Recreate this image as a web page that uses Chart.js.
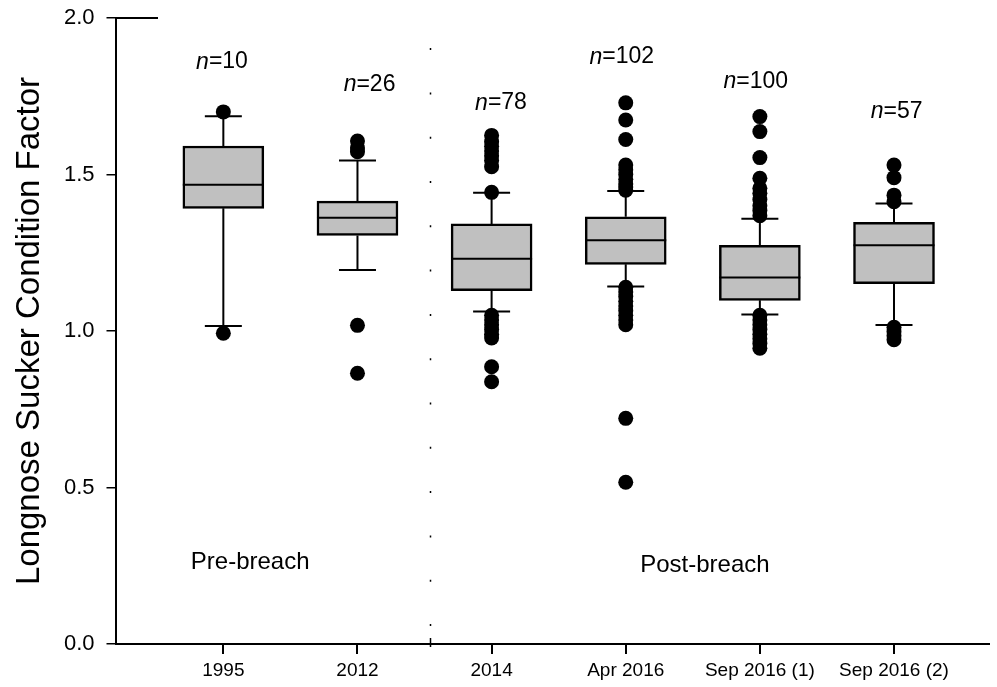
<!DOCTYPE html>
<html>
<head>
<meta charset="utf-8">
<title>Longnose Sucker Condition Factor</title>
<script src="https://cdn.jsdelivr.net/npm/chart.js@4"></script>
<style>
  html, body { margin: 0; padding: 0; background: #fff; }
  #wrap { width: 997px; height: 687px; }
</style>
</head>
<body>
<div id="wrap"><canvas id="conditionChart" width="997" height="687"></canvas></div>
<script>
// sampling events, left to right
const categories = ['1995', '2012', '2014', 'Apr 2016', 'Sep 2016 (1)', 'Sep 2016 (2)'];
const sampleSizes = [10, 26, 78, 102, 100, 57];

// box statistics per event
const whiskerLow = [1.016, 1.195, 1.062, 1.142, 1.053, 1.019];
const q1 = [1.392, 1.305, 1.129, 1.213, 1.098, 1.151];
const median = [1.467, 1.362, 1.231, 1.290, 1.171, 1.274];
const q3 = [1.591, 1.415, 1.342, 1.365, 1.274, 1.347];
const whiskerHigh = [1.686, 1.545, 1.442, 1.447, 1.359, 1.407];

// points beyond the whiskers
const outliers = [
  [1.700, 0.993],
  [1.607, 1.585, 1.573, 1.018, 0.865],
  [1.625, 1.605, 1.590, 1.575, 1.560, 1.545, 1.525, 1.443,
   1.050, 1.035, 1.020, 1.005, 0.990, 0.978, 0.886, 0.838],
  [1.729, 1.674, 1.612, 1.530, 1.515, 1.500, 1.485, 1.470, 1.460, 1.450,
   1.140, 1.125, 1.110, 1.095, 1.080, 1.065, 1.050, 1.035, 1.020, 0.721, 0.517],
  [1.685, 1.637, 1.554, 1.488, 1.456, 1.440, 1.420, 1.400, 1.385, 1.368,
   1.050, 1.035, 1.020, 1.005, 0.990, 0.975, 0.960, 0.945],
  [1.530, 1.490, 1.434, 1.413, 1.012, 0.998, 0.985, 0.972]
];

const yTicks = [0, 0.5, 1.0, 1.5, 2.0];

// break between pre- and post-breach sampling (in category units)
const breachAt = 2.54;

// where the n= labels and period labels sit (category units, condition factor)
const nLabelPos = [[0.99, 1.859], [2.09, 1.786], [3.07, 1.728], [3.97, 1.875], [4.97, 1.796], [6.02, 1.700]];
const periodLabels = [
  { text: 'Pre-breach', x: 1.20, y: 0.262 },
  { text: 'Post-breach', x: 4.59, y: 0.252 }
];

const FONT = '"Liberation Sans", Arial, sans-serif';

const boxData = categories.map((c, i) => ({ x: i + 1, y: [q1[i], q3[i]] }));
const outlierData = [];
outliers.forEach((vals, i) => vals.forEach(v => outlierData.push({ x: i + 1, y: v })));

// keep the plot area fixed: no extra room for overhanging tick labels
function noLabelPadding(scale) {
  scale.paddingTop = 0;
  scale.paddingBottom = 0;
  scale.paddingLeft = 0;
  scale.paddingRight = 0;
}

// medians, whiskers, caps, breach line, x tick marks and text labels
const boxExtras = {
  id: 'boxExtras',
  afterDatasetsDraw(chart) {
    const ctx = chart.ctx;
    const xs = chart.scales.x;
    const ys = chart.scales.y;
    const boxMeta = chart.getDatasetMeta(0);
    ctx.save();
    ctx.strokeStyle = '#000';
    categories.forEach((c, i) => {
      const bar = boxMeta.data[i];
      const cx = xs.getPixelForValue(i + 1);
      const half = bar.width / 2;
      const capHalf = 18.5;
      // median
      ctx.lineWidth = 2;
      ctx.beginPath();
      ctx.moveTo(cx - half, ys.getPixelForValue(median[i]));
      ctx.lineTo(cx + half, ys.getPixelForValue(median[i]));
      ctx.stroke();
      // whiskers
      ctx.lineWidth = 2;
      ctx.beginPath();
      ctx.moveTo(cx, ys.getPixelForValue(q3[i]));
      ctx.lineTo(cx, ys.getPixelForValue(whiskerHigh[i]));
      ctx.moveTo(cx, ys.getPixelForValue(q1[i]));
      ctx.lineTo(cx, ys.getPixelForValue(whiskerLow[i]));
      ctx.moveTo(cx - capHalf, ys.getPixelForValue(whiskerHigh[i]));
      ctx.lineTo(cx + capHalf, ys.getPixelForValue(whiskerHigh[i]));
      ctx.moveTo(cx - capHalf, ys.getPixelForValue(whiskerLow[i]));
      ctx.lineTo(cx + capHalf, ys.getPixelForValue(whiskerLow[i]));
      ctx.stroke();
    });

    // x tick marks, one per sampling event
    ctx.fillStyle = '#000';
    categories.forEach((c, i) => {
      const tx = Math.round(xs.getPixelForValue(i + 1));
      ctx.fillRect(tx - 1, Math.round(ys.bottom), 2, 10);
    });

    // short rule at the top of the y axis
    ctx.fillRect(Math.round(ys.right), Math.round(ys.top) - 1, 42, 2);

    // dotted breach line
    const bx = Math.round(xs.getPixelForValue(breachAt)) + 0.5;
    ctx.lineWidth = 1.5;
    ctx.setLineDash([2, 42.3]);
    ctx.beginPath();
    ctx.moveTo(bx, ys.bottom - 18);
    ctx.lineTo(bx, ys.top);
    ctx.stroke();
    ctx.setLineDash([]);
    ctx.beginPath();
    ctx.moveTo(bx, ys.bottom - 6);
    ctx.lineTo(bx, ys.bottom + 3);
    ctx.stroke();

    // n= labels with italic n
    ctx.textBaseline = 'middle';
    ctx.textAlign = 'left';
    const nSize = 23;
    sampleSizes.forEach((n, i) => {
      const px = xs.getPixelForValue(nLabelPos[i][0]);
      const py = ys.getPixelForValue(nLabelPos[i][1]);
      const rest = '=' + n;
      ctx.font = 'italic ' + nSize + 'px ' + FONT;
      const wN = ctx.measureText('n').width;
      ctx.font = nSize + 'px ' + FONT;
      const wR = ctx.measureText(rest).width;
      const x0 = px - (wN + wR) / 2;
      ctx.font = 'italic ' + nSize + 'px ' + FONT;
      ctx.fillText('n', x0, py);
      ctx.font = nSize + 'px ' + FONT;
      ctx.fillText(rest, x0 + wN, py);
    });

    ctx.textAlign = 'center';
    ctx.font = '24px ' + FONT;
    periodLabels.forEach(l => {
      ctx.fillText(l.text, xs.getPixelForValue(l.x), ys.getPixelForValue(l.y));
    });
    ctx.restore();
  }
};

new Chart(document.getElementById('conditionChart'), {
  type: 'bar',
  data: {
    datasets: [
      {
        type: 'bar',
        data: boxData,
        backgroundColor: '#c0c0c0',
        borderColor: '#000',
        borderWidth: 2.5,
        borderSkipped: false,
        barThickness: 81,
        grouped: false,
        order: 2
      },
      {
        type: 'scatter',
        data: outlierData,
        pointRadius: 7.5,
        pointBackgroundColor: '#000',
        pointBorderWidth: 0,
        order: 1
      }
    ]
  },
  options: {
    responsive: false,
    animation: false,
    events: [],
    layout: { padding: { top: 18, right: 0, left: 0, bottom: 0 } },
    plugins: { legend: { display: false }, tooltip: { enabled: false } },
    scales: {
      x: {
        type: 'linear',
        offset: false,
        min: 0.196,
        max: 6.712,
        afterFit(scale) {
          scale.height = 43;
          noLabelPadding(scale);
        },
        afterBuildTicks(scale) {
          scale.ticks = categories.map((c, i) => ({ value: i + 1 }));
        },
        ticks: {
          autoSkip: false,
          maxRotation: 0,
          padding: 6,
          color: '#000',
          font: { family: FONT, size: 19 },
          callback: (v) => categories[Math.round(v) - 1]
        },
        grid: { display: false, offset: false, drawOnChartArea: false, drawTicks: true, tickLength: 9 },
        border: { display: true, color: '#000', width: 2 }
      },
      y: {
        min: 0,
        max: 2,
        afterFit(scale) {
          scale.width = 115.5;
          noLabelPadding(scale);
        },
        afterBuildTicks(scale) {
          scale.ticks = yTicks.map(v => ({ value: v }));
        },
        ticks: {
          padding: 12,
          color: '#000',
          font: { family: FONT, size: 22 },
          callback: (v) => v.toFixed(1)
        },
        grid: { drawOnChartArea: false, drawTicks: true, tickLength: 9, color: '#000', lineWidth: 1.5 },
        border: { display: true, color: '#000', width: 2 },
        title: {
          display: true,
          text: 'Longnose Sucker Condition Factor',
          color: '#000',
          font: { family: FONT, size: 33 },
          padding: { top: 10, bottom: 0 }
        }
      }
    }
  },
  plugins: [boxExtras]
});
</script>
</body>
</html>
